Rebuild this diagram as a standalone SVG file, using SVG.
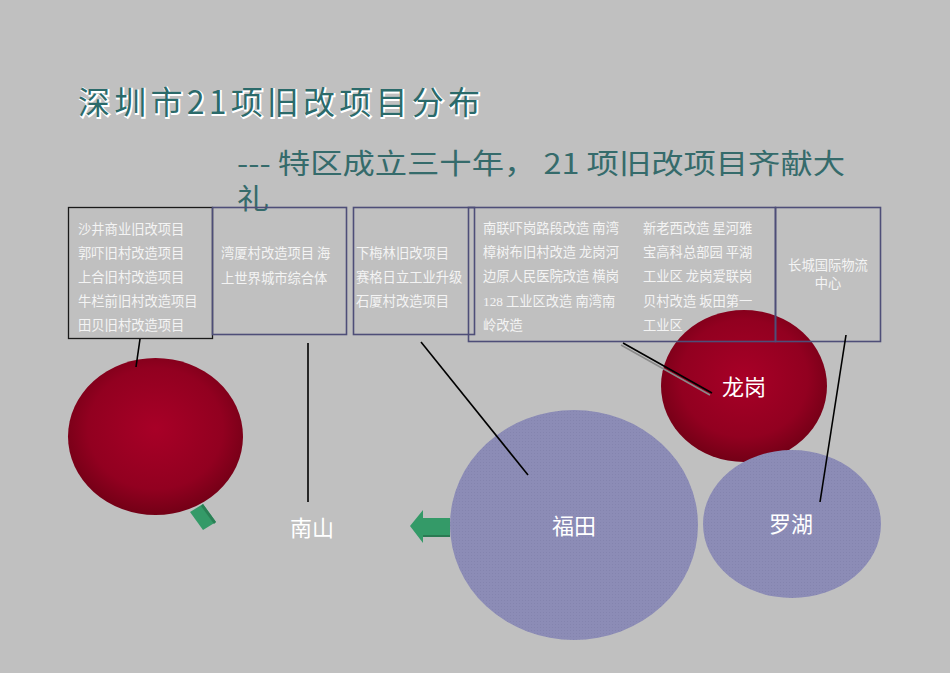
<svg xmlns="http://www.w3.org/2000/svg" width="950" height="673" viewBox="0 0 950 673">
<defs>
<radialGradient id="red" cx="50%" cy="45%" r="55%">
<stop offset="0" stop-color="#a80027"/>
<stop offset="0.7" stop-color="#920020"/>
<stop offset="1" stop-color="#730016"/>
</radialGradient>
<pattern id="dots" width="3" height="3" patternUnits="userSpaceOnUse">
<rect width="3" height="3" fill="#8c8cb6"/>
<rect width="1" height="1" fill="#8484ae"/>
</pattern>
</defs>
<style>
.t{font-family:"Noto Sans CJK SC","Noto Sans",sans-serif;}
.s{font-size:13.3px;fill:#f4f4f4;}
.lab{font-size:22px;fill:#ffffff;text-anchor:middle;}
.box{fill:none;stroke:#4e4e78;stroke-width:1.6;}
.con{stroke:#000;stroke-width:1.6;fill:none;}
.ttl{font-size:32px;}
.sub{font-size:28px;fill:#356b6b;}
</style>
<rect width="950" height="673" fill="#c0c0c0"/>

<g id="title">
<text class="t ttl" x="79" y="115" fill="#ffffff" stroke="#ffffff" stroke-width="2" textLength="402" lengthAdjust="spacing">深圳市21项旧改项目分布</text>
<text class="t ttl" x="78" y="114" fill="#2b6a6a" textLength="402" lengthAdjust="spacing">深圳市21项旧改项目分布</text>
</g>
<g id="subtitle">
<text class="t sub" x="237" y="174" textLength="608" lengthAdjust="spacingAndGlyphs">--- 特区成立三十年， 21 项旧改项目齐献大</text>
<text class="t sub" x="237" y="209" textLength="32" lengthAdjust="spacingAndGlyphs">礼</text>
</g>

<g id="arrows-green">
<polygon points="190,512 203,504 216,522 203,530" fill="#349a68"/>
<polygon points="203,504 216,522 214,524 201,506" fill="#2a8055"/>
<polygon points="450,518 423,518 423,510 410,526 423,543 423,535 450,535" fill="#349a68"/>
<polygon points="423,535 450,535 450,537 423,537" fill="#2a7a52"/>
</g>

<g id="node-nanshan-circle">
<ellipse cx="155.5" cy="436.5" rx="87.5" ry="78.5" fill="url(#red)"/>
</g>
<g id="node-futian">
<ellipse cx="574" cy="525" rx="124" ry="115" fill="url(#dots)"/>
<text class="t lab" x="574" y="534">福田</text>
</g>
<g id="node-longgang">
<ellipse cx="744" cy="386" rx="83" ry="76" fill="url(#red)"/>
<text class="t lab" x="744" y="395">龙岗</text>
</g>
<g id="node-luohu">
<ellipse cx="792" cy="524" rx="89" ry="74" fill="url(#dots)"/>
<text class="t lab" x="791" y="532">罗湖</text>
</g>
<g id="node-nanshan">
<text class="t lab" x="312" y="536">南山</text>
</g>

<g id="box1">
<rect x="68.5" y="207.5" width="144" height="131" fill="none" stroke="#1a1a1a" stroke-width="1.3"/>
<text class="t s" x="78" y="234">沙井商业旧改项目</text>
<text class="t s" x="78" y="258">郭吓旧村改造项目</text>
<text class="t s" x="78" y="282">上合旧村改造项目</text>
<text class="t s" x="78" y="306">牛栏前旧村改造项目</text>
<text class="t s" x="78" y="330">田贝旧村改造项目</text>
</g>
<g id="box2">
<rect class="box" x="212.5" y="207.5" width="134" height="127"/>
<text class="t s" x="221" y="258">湾厦村改造项目 海</text>
<text class="t s" x="221" y="283">上世界城市综合体</text>
</g>
<g id="box3">
<rect class="box" x="353.5" y="207.5" width="121" height="127"/>
<text class="t s" x="356" y="258">下梅林旧改项目</text>
<text class="t s" x="356" y="282">赛格日立工业升级</text>
<text class="t s" x="356" y="306">石厦村改造项目</text>
</g>
<g id="box4">
<rect class="box" x="468.5" y="207.5" width="307" height="134"/>
<text class="t s" x="483" y="233">南联吓岗路段改造 南湾</text>
<text class="t s" x="483" y="257">樟树布旧村改造 龙岗河</text>
<text class="t s" x="483" y="281">边原人民医院改造 横岗</text>
<text class="t s" x="483" y="306"><tspan font-family="Liberation Serif">128</tspan> 工业区改造 南湾南</text>
<text class="t s" x="483" y="330">岭改造</text>
<text class="t s" x="643" y="233">新老西改造 星河雅</text>
<text class="t s" x="643" y="257">宝高科总部园 平湖</text>
<text class="t s" x="643" y="281">工业区 龙岗爱联岗</text>
<text class="t s" x="643" y="306">贝村改造 坂田第一</text>
<text class="t s" x="643" y="330">工业区</text>
</g>
<g id="box5">
<rect class="box" x="775.5" y="207.5" width="105" height="134"/>
<text class="t s" x="828" y="270" text-anchor="middle">长城国际物流</text>
<text class="t s" x="828" y="288" text-anchor="middle">中心</text>
</g>

<g id="connectors">
<line class="con" x1="140" y1="339" x2="136" y2="367"/>
<line class="con" x1="308" y1="343" x2="308" y2="502"/>
<line class="con" x1="421" y1="342" x2="528" y2="475"/>
<line x1="621" y1="345" x2="710" y2="395" stroke="#8a8a8a" stroke-width="1.6"/>
<line class="con" x1="623" y1="343" x2="712" y2="393"/>
<line class="con" x1="846" y1="335" x2="820" y2="502"/>
</g>
</svg>
